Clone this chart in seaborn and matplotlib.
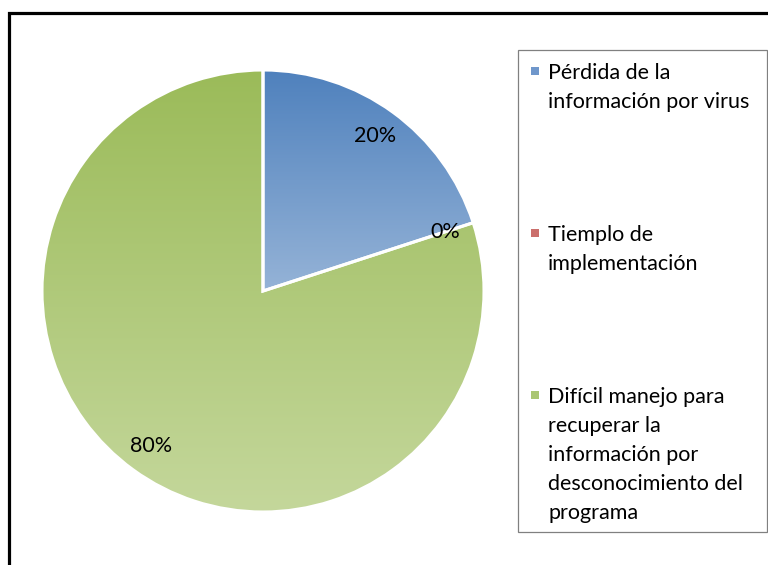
import numpy as np
import matplotlib
matplotlib.use("Agg")
import matplotlib.pyplot as plt
import seaborn as sns
from matplotlib.patches import Rectangle, Wedge
from matplotlib.colors import LinearSegmentedColormap

categories = ["Pérdida de la\ninformación por virus",
              "Tiemplo de\nimplementación",
              "Difícil manejo para\nrecuperar la\ninformación por\ndesconocimiento del\nprograma"]
values = [20, 0, 80]
top_colors = ["#4F81BD", "#C0504D", "#9BBB59"]
bottom_colors = ["#95B3D7", "#D99694", "#C4D79B"]
marker_colors = ["#6F97CB", "#CB6F6C", "#AAC672"]

sns.set_theme(style="white")
plt.rcParams["font.family"] = ["Lato", "DejaVu Sans"]

W, H = 768, 565
fig = plt.figure(figsize=(W / 100, H / 100), dpi=100)
cx, cy, r = 263, 291, 221
ax = fig.add_axes([(cx - r) / W, (H - cy - r) / H, 2 * r / W, 2 * r / H])

wedges, texts, autotexts = ax.pie(
    values, startangle=90, counterclock=False, radius=1,
    colors=top_colors, autopct="%1.0f%%", pctdistance=0.865,
    wedgeprops=dict(edgecolor="white", linewidth=2.2),
    textprops=dict(fontsize=15.5, color="black"))

# vertical gradients clipped to each wedge
for i, (w, c0, c1) in enumerate(zip(wedges, top_colors, bottom_colors)):
    if w.theta1 == w.theta2:
        continue
    cmap = LinearSegmentedColormap.from_list("g%d" % i, [c0, c1])
    y0, y1 = (0, 1) if i == 0 else (-1, 1)
    grad = np.linspace(0, 1, 256).reshape(-1, 1)
    im = ax.imshow(grad, cmap=cmap, extent=(-1, 1, y0, y1), origin="upper",
                   aspect="auto", zorder=w.get_zorder() + 0.1)
    im.set_clip_path(w)
    w.set_facecolor("none")
    ax.add_patch(Wedge(w.center, w.r, w.theta1, w.theta2, facecolor="none",
                       edgecolor="white", linewidth=2.2, zorder=im.get_zorder() + 0.1))
ax.set_xlim(-1, 1)
ax.set_ylim(-1, 1)
ax.set_aspect("equal")
ax.axis("off")
for t in autotexts:
    t.set_zorder(10)

# legend (drawn in figure pixel coordinates)
def px(x, y):
    return x / W, 1 - y / H

lx0, ly0, lx1, ly1 = 517.5, 49.5, 766.5, 532
fig.add_artist(Rectangle(px(lx0, ly1), (lx1 - lx0) / W, (ly1 - ly0) / H,
                         transform=fig.transFigure, facecolor="white",
                         edgecolor="#808080", linewidth=0.9))
first_baselines = [79, 241, 403]
line_step = 29
for lab, col, b0 in zip(categories, marker_colors, first_baselines):
    fig.add_artist(Rectangle(px(531, b0 - 4), 8 / W, 8 / H,
                             transform=fig.transFigure, facecolor=col,
                             edgecolor="none"))
    for k, line in enumerate(lab.split("\n")):
        fig.text(*px(548, b0 + k * line_step), line, fontsize=15.5,
                 color="black", ha="left", va="baseline")

# outer chart border
fig.add_artist(Rectangle((8.5 / W, -0.2), 2, 1.2 - 12.5 / H,
                         transform=fig.transFigure, facecolor="none",
                         edgecolor="black", linewidth=2.3))

fig.savefig("out.png", dpi=100)
